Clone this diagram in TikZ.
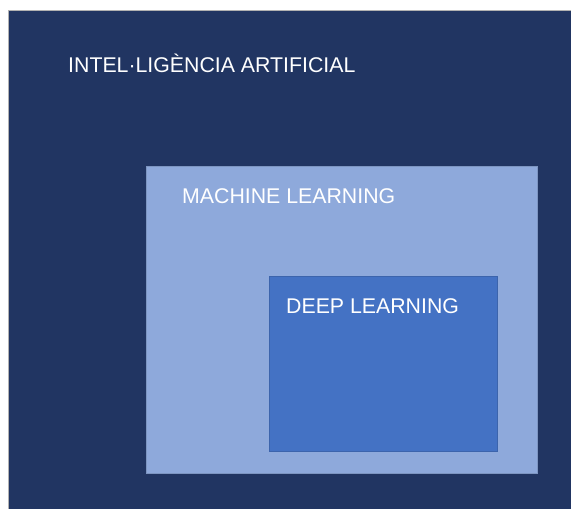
\documentclass[tikz,border=0pt]{standalone}
\usepackage{fontspec}
\setmainfont{Liberation Sans}
\definecolor{aidark}{RGB}{33,53,98}
\definecolor{mllight}{RGB}{142,169,219}
\definecolor{dlblue}{RGB}{68,114,196}
\begin{document}
\begin{tikzpicture}[x=1pt,y=-1pt,
  area/.style={draw=#1!88!black, line width=0.5pt, fill=#1, rectangle, inner sep=0pt, outer sep=0pt, anchor=north west},
  lbl/.style={anchor=base west, inner sep=0pt, text=white, font=\fontsize{21.3}{25}\selectfont}]
\useasboundingbox (0,0) rectangle (571,509);
\fill[white] (0,0) rectangle (571,509);
\node[area=aidark, draw=gray!60, minimum width=564pt, minimum height=500pt] (ai) at (8,10) {};
\node[area=mllight, minimum width=391pt, minimum height=307pt] (ml) at (146,166) {};
\node[area=dlblue, minimum width=228pt, minimum height=175pt] (dl) at (269,276) {};
\node[lbl] (tai) at (68,72) {INTEL·LIGÈNCIA ARTIFICIAL};
\node[lbl] (tml) at (182,203) {MACHINE LEARNING};
\node[lbl] (tdl) at (286,313) {DEEP LEARNING};
\end{tikzpicture}
\end{document}
